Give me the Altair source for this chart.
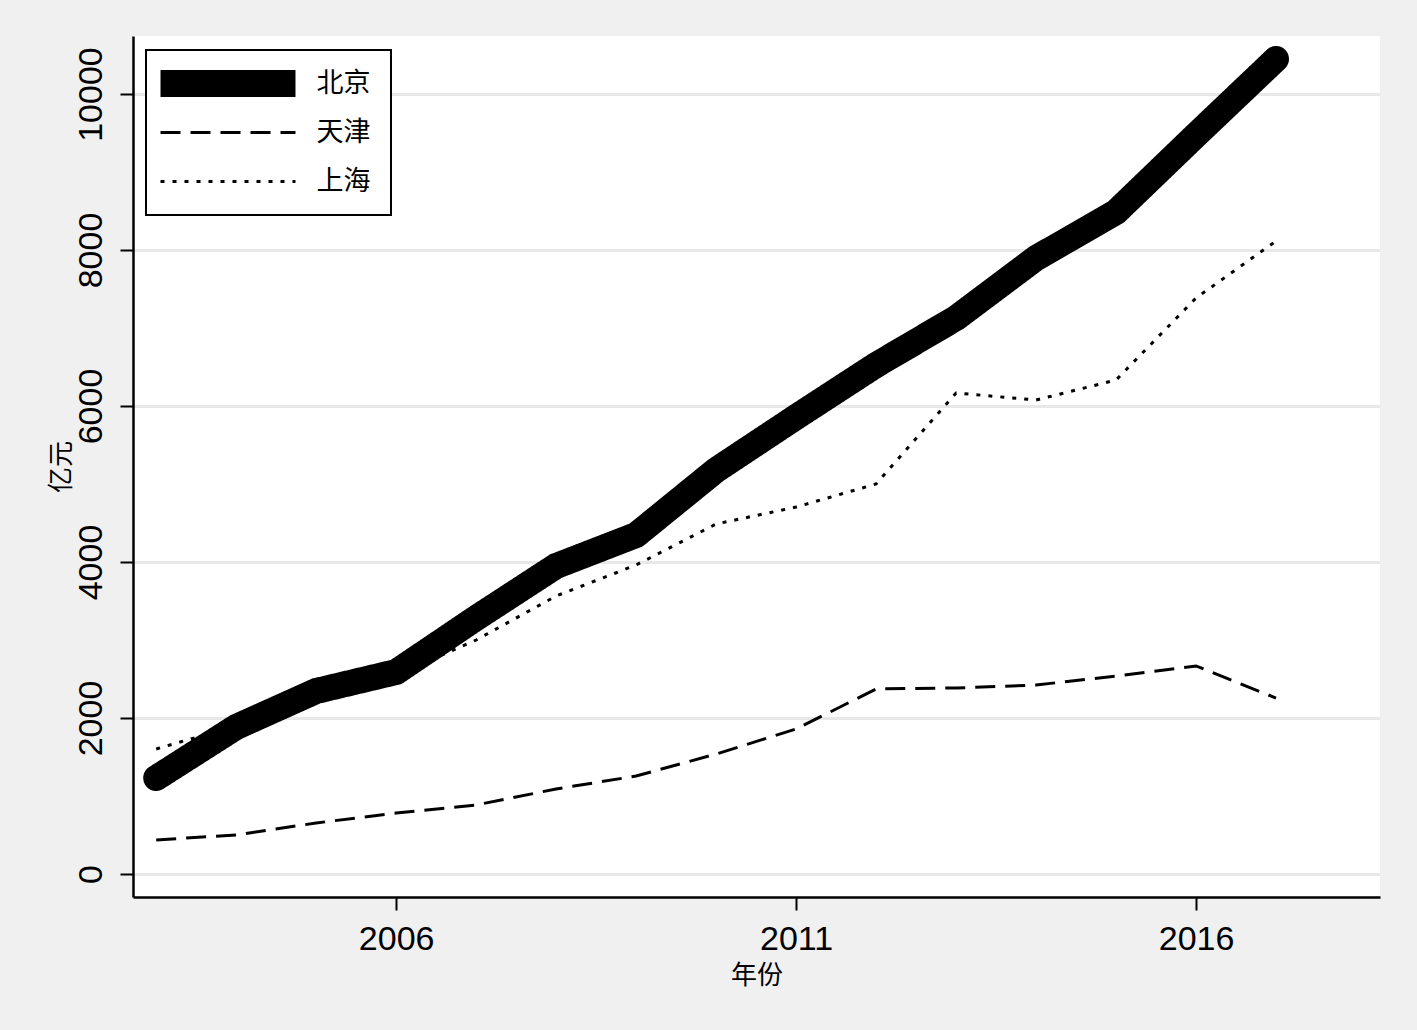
import altair as alt
import pandas as pd

years = list(range(2003, 2018))
cities = ["北京", "天津", "上海"]
beijing = [1231, 1885, 2346, 2590, 3282, 3949, 4346, 5179, 5859, 6526, 7128, 7897, 8487, 9474, 10449]
tianjin = [436, 500, 654, 782, 885, 1090, 1256, 1538, 1859, 2372, 2385, 2423, 2538, 2667, 2256]
shanghai = [1603, 1900, 2200, 2550, 3000, 3564, 3962, 4487, 4705, 5000, 6167, 6077, 6333, 7385, 8115]
x_ticks = [2006, 2011, 2016]
y_ticks = [0, 2000, 4000, 6000, 8000, 10000]

rows = []
for c, vals in zip(cities, [beijing, tianjin, shanghai]):
    for y, v in zip(years, vals):
        rows.append({"年份": y, "亿元": v, "city": c})
df = pd.DataFrame(rows)

FONT = "Liberation Sans"
CJK = "Noto Sans CJK SC"

x = alt.X("年份:Q",
          scale=alt.Scale(domain=[2002.71, 2018.3], nice=False, zero=False),
          axis=alt.Axis(values=x_ticks, format="d", title="年份", grid=False,
                        labelFontSize=34, labelFont=FONT, titleFont=CJK,
                        titleFontSize=26, titleFontWeight="normal", titlePadding=6,
                        tickSize=13, tickWidth=2, domainWidth=2.5, labelPadding=12,
                        labelColor="black", titleColor="black",
                        domainColor="black", tickColor="black"))
y = alt.Y("亿元:Q",
          scale=alt.Scale(domain=[-295, 10744], nice=False, zero=False),
          axis=alt.Axis(values=y_ticks, format="d", title="亿元", grid=True,
                        gridColor="#e8e8e8", gridWidth=3, labelAngle=-90,
                        labelAlign="center", labelBaseline="bottom", labelFontSize=34,
                        labelFont=FONT, titleFont=CJK, titleFontSize=26,
                        titleFontWeight="normal", titlePadding=0, tickSize=13,
                        tickWidth=2, domainWidth=2.5, labelPadding=12,
                        labelColor="black", titleColor="black",
                        domainColor="black", tickColor="black"))

sym_shape = ("datum.label == '北京' ? 'M-3.97,-0.794H3.97V0.794H-3.97Z' "
             ": 'M-3.97,0H3.97'")
dash = alt.StrokeDash("city:N",
                      scale=alt.Scale(domain=cities, range=[[1, 0], [20, 10], [4, 8]]),
                      legend=alt.Legend(title=None, orient="none", legendX=13, legendY=14,
                                        symbolType=alt.ExprRef(sym_shape),
                                        symbolSize=1156,
                                        symbolOffset=48.5,
                                        symbolFillColor=alt.ExprRef("datum.label == '北京' ? 'black' : 'transparent'"),
                                        symbolStrokeWidth=alt.ExprRef("datum.label == '北京' ? 0 : 3"),
                                        symbolStrokeColor="black", labelFont=CJK,
                                        labelFontSize=27, labelOffset=75, padding=20,
                                        rowPadding=21, strokeColor="black",
                                        fillColor="white", labelColor="black"))

base = alt.Chart(df).encode(x=x, y=y, strokeDash=dash, detail="city:N")
bj = base.transform_filter(alt.datum.city == "北京").mark_line(
    color="black", strokeWidth=26, strokeCap="round", strokeJoin="round")
others = base.transform_filter(alt.datum.city != "北京").mark_line(
    color="black", strokeWidth=3, strokeCap="butt")

chart = alt.layer(bj, others).properties(
    width=1247, height=861,
    autosize=alt.AutoSizeParams(type="none"),
    padding={"left": 133, "top": 36, "right": 37, "bottom": 133},
    background="#f0f0f0",
).configure_view(fill="white", stroke=None).configure_legend(strokeWidth=2)

chart.save("out.html", embed_options={"renderer": "svg", "actions": False})
